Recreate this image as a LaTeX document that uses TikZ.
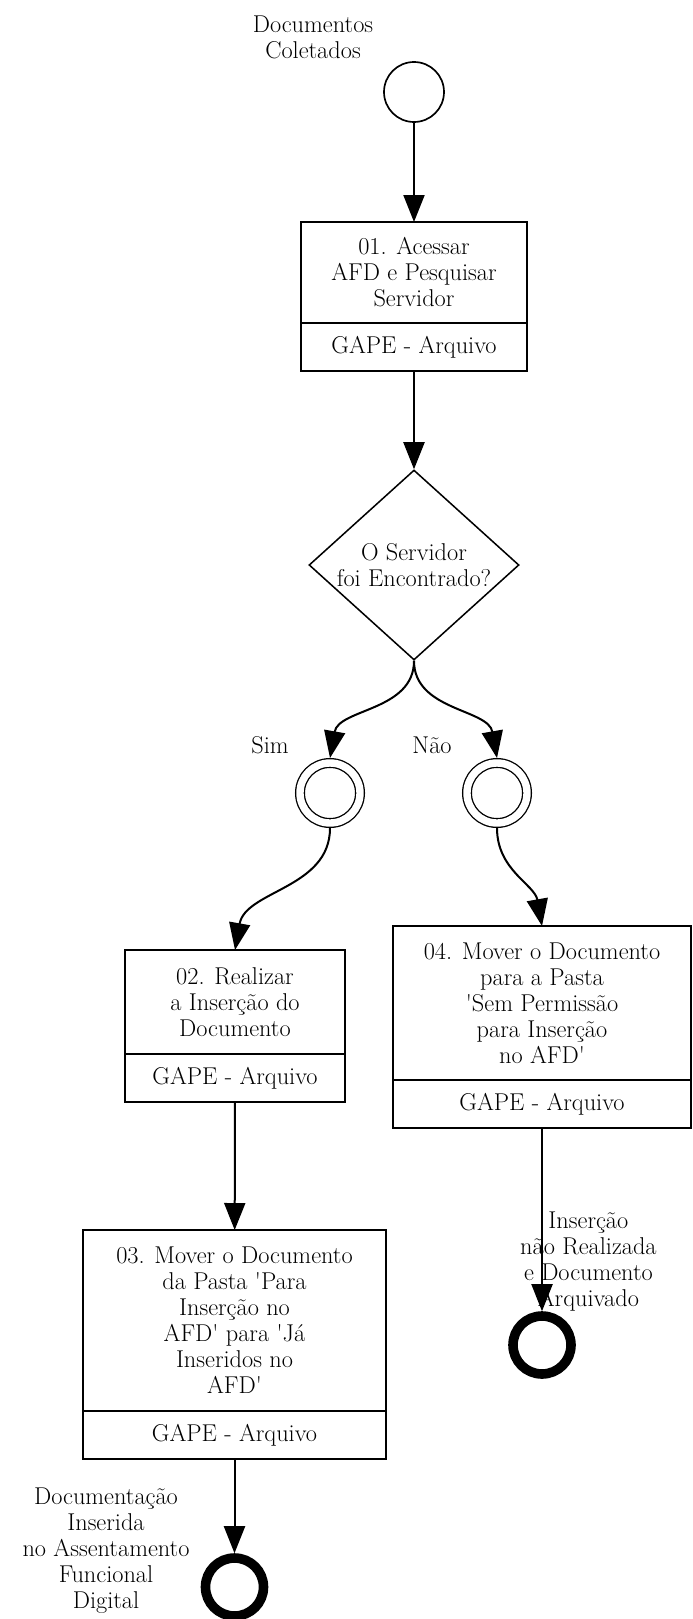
\documentclass[tikz,border=0pt]{standalone}
\usepackage{tikz}
\usetikzlibrary{arrows.meta,positioning,shapes.geometric}

\tikzset{
  task/.style={draw, line width=0.05cm, align=center, inner sep=0pt, outer sep=0pt},
  lane/.style={task, minimum height=1.2cm},
  flow/.style={line width=0.05cm, -{Triangle[length=0.675cm,width=0.525cm]}},
  startev/.style={circle, draw, line width=0.042cm, minimum size=1.5cm, inner sep=0pt},
  midev/.style={circle, draw, double, line width=0.033cm, double distance=0.185cm, minimum size=1.5cm, inner sep=0pt, outer sep=0.125cm},
  endev/.style={circle, draw, line width=0.24cm, minimum size=1.45cm, inner sep=0pt},
  gateway/.style={diamond, draw, line width=0.038cm, aspect=1.1, inner sep=-0.1cm, minimum width=5.25cm, minimum height=4.75cm, align=center},
  txt/.style={align=center}
}
\newcommand{\qs}{\textquotesingle}

\begin{document}
\begin{tikzpicture}[font=\fontsize{17.3}{18.5}\selectfont]
\useasboundingbox (0,0) rectangle (17.325,-40.475);
\node[txt] (lstart) at (7.825,-0.925) {Documentos\\Coletados};
\node[startev] (start) at (10.35,-2.3) {};
\node[task, minimum width=5.65cm, minimum height=2.525cm] (t1) at (10.35,-6.8125) {01. Acessar\\AFD e Pesquisar\\Servidor};
\node[lane, minimum width=5.65cm, below=0pt of t1] (t1l) {GAPE - Arquivo};
\node[gateway] (gw) at (10.35,-14.125) {O Servidor\\foi Encontrado?};
\node[midev] (e1) at (8.25,-19.825) {};
\node[midev] (e2) at (12.425,-19.825) {};
\node[txt] (lsim) at (6.75,-18.625) {Sim};
\node[txt] (lnao) at (10.8,-18.625) {Não};
\node[task, minimum width=5.5cm, minimum height=2.6cm] (t2) at (5.875,-25.05) {02. Realizar\\a Inserção do\\Documento};
\node[lane, minimum width=5.5cm, below=0pt of t2] (t2l) {GAPE - Arquivo};
\node[task, minimum width=7.45cm, minimum height=3.85cm] (t4) at (13.55,-25.075) {04. Mover o Documento\\para a Pasta\\\qs Sem Permissão\\para Inserção\\no AFD\qs};
\node[lane, minimum width=7.45cm, below=0pt of t4] (t4l) {GAPE - Arquivo};
\node[task, minimum width=7.575cm, minimum height=4.525cm] (t3) at (5.8625,-33.0125) {03. Mover o Documento\\da Pasta \qs Para\\Inserção no\\AFD\qs{} para \qs Já\\Inseridos no\\AFD\qs};
\node[lane, minimum width=7.575cm, below=0pt of t3] (t3l) {GAPE - Arquivo};
\node[endev] (e4) at (13.55,-33.625) {};
\node[endev] (e3) at (5.8625,-39.675) {};
\draw[flow] (start) -- (t1);
\draw[flow] (t1l) -- (gw);
\draw[flow] (gw.south) to[out=-90,in=80] (e1.north);
\draw[flow] (gw.south) to[out=-90,in=100] (e2.north);
\draw[flow] (e1.south) to[out=-90,in=80] (t2.north);
\draw[flow] (e2.south) to[out=-90,in=100] (t4.north);
\draw[flow] (t2l) -- (t3);
\draw[flow] (t3l) -- (e3);
\draw[flow] (t4l) -- (e4);
\node[txt] (le4) at (14.71,-31.55) {Inserção\\não Realizada\\e Documento\\Arquivado};
\node[txt] (le3) at (2.65,-38.76) {Documentação\\Inserida\\no Assentamento\\Funcional\\Digital};
\end{tikzpicture}
\end{document}
